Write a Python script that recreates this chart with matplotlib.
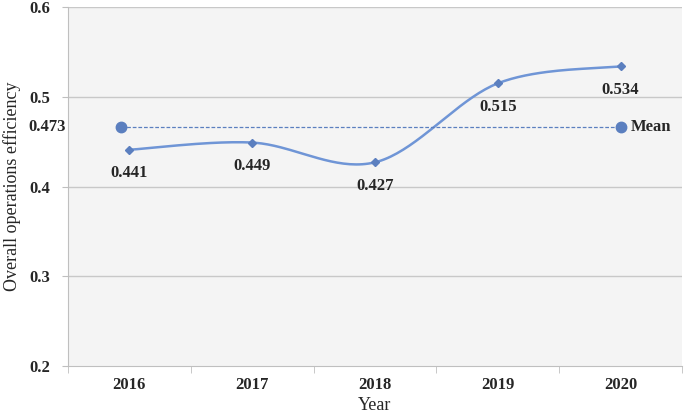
import numpy as np
import matplotlib
matplotlib.use("Agg")
import matplotlib.pyplot as plt
from matplotlib.transforms import blended_transform_factory

years = ["2016", "2017", "2018", "2019", "2020"]
efficiency = [0.441, 0.449, 0.427, 0.515, 0.534]
mean_text = "0.473"
mean_level = 0.466   # vertical position of the mean line as drawn in the reference
mean_label = "Mean"
yticks = [0.2, 0.3, 0.4, 0.5, 0.6]

plt.rcParams['font.family'] = ['Liberation Serif', 'DejaVu Serif']

line_color = '#6f95d6'
marker_color = '#5b7fbf'
text_color = '#262626'

def smooth(xs, ys, n=40, t=0.5):
    xs = np.asarray(xs, float); ys = np.asarray(ys, float)
    px = np.concatenate([[xs[0]], xs, [xs[-1]]])
    py = np.concatenate([[ys[0]], ys, [ys[-1]]])
    ox, oy = [], []
    for i in range(1, len(px) - 2):
        p0 = np.array([px[i-1], py[i-1]]); p1 = np.array([px[i], py[i]])
        p2 = np.array([px[i+1], py[i+1]]); p3 = np.array([px[i+2], py[i+2]])
        c1 = p1 + (p2 - p0) * t / 3
        c2 = p2 - (p3 - p1) * t / 3
        s = np.linspace(0, 1, n)[:, None]
        b = (1-s)**3*p1 + 3*(1-s)**2*s*c1 + 3*(1-s)*s**2*c2 + s**3*p2
        ox.extend(b[:, 0]); oy.extend(b[:, 1])
    return np.array(ox), np.array(oy)

fig = plt.figure(figsize=(6.85, 4.15), dpi=100)
ax = fig.add_axes([0.0993, 0.118, 0.8963, 0.865])
ax.set_facecolor('#f4f4f4')

x = np.arange(len(years))
sx, sy = smooth(x, efficiency)
ax.plot(sx, sy, color=line_color, lw=1.8, zorder=3)
ax.plot(x, efficiency, linestyle='none', marker='D', ms=4.5, color=marker_color, zorder=4)
for xi, v in zip(x, efficiency):
    ax.annotate(f"{v:.3f}", (xi, v), xytext=(0, -11), textcoords='offset points',
                ha='center', va='top', fontsize=12, fontweight='bold', color=text_color)

mx = [x[0] - 0.065, x[-1]]
ax.plot(mx, [mean_level, mean_level], linestyle=(0, (3, 1.5)), lw=0.9, color=marker_color, zorder=3)
ax.plot(mx, [mean_level, mean_level], linestyle='none', marker='o', ms=7.5, color=marker_color, zorder=4)
ax.annotate(mean_label, (mx[1], mean_level), xytext=(7, 0), textcoords='offset points',
            ha='left', va='center', fontsize=12, fontweight='bold', color=text_color)
trans = blended_transform_factory(ax.transAxes, ax.transData)
ax.text(-0.004, mean_level, mean_text, transform=trans, ha='right', va='center',
        fontsize=12, fontweight='bold', color=text_color)

ax.set_xlim(-0.5, len(years) - 0.5)
ax.set_ylim(0.2, 0.6)
ax.set_yticks(yticks)
ax.set_yticklabels([f"{v:g}" for v in yticks])
ax.set_xticks(x)
ax.set_xticklabels(years)
ax.set_xticks(np.arange(-0.5, len(years)), minor=True)
ax.tick_params(axis='x', which='major', length=0, pad=8)
ax.tick_params(axis='x', which='minor', length=5, color='#bfbfbf')
ax.tick_params(axis='y', length=4, color='#bfbfbf', pad=9)
for lab in ax.get_xticklabels() + ax.get_yticklabels():
    lab.set_fontweight('bold'); lab.set_fontsize(12); lab.set_color(text_color)

for yv in [0.3, 0.4, 0.5, 0.6]:
    ax.axhline(yv, color='#c8c8c8', lw=1, zorder=1)
for s in ['top', 'right']:
    ax.spines[s].set_visible(False)
ax.spines['left'].set_color('#bfbfbf')
ax.spines['bottom'].set_color('#bfbfbf')

ax.set_xlabel("Year", fontsize=13, color=text_color, labelpad=3)
ax.set_ylabel("Overall operations efficiency", fontsize=13, color=text_color, labelpad=6)

fig.savefig("out.png", dpi=100)
